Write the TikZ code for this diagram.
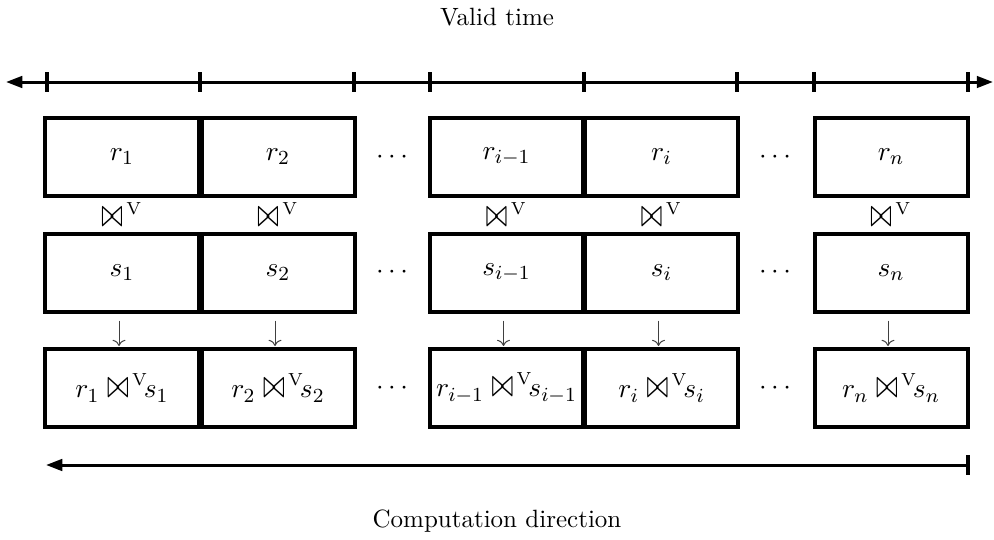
\documentclass[tikz,border=0pt]{standalone}
\usepackage{graphicx}
\usetikzlibrary{arrows.meta,calc}
\newcommand{\vjsym}{\mbox{\fontsize{9.5}{11}\selectfont$\mathord{\scalebox{1.12}[1.75]{$\bowtie$}}^{\,\mathrm{V}}$}}
\newcommand{\vj}{\;\vjsym\!}
\begin{document}
\begin{tikzpicture}[x=0.4pt,y=-0.4pt,
  cell/.style={draw, line width=1.6pt, minimum width=61.2pt, minimum height=31.2pt, inner sep=0pt, font=\fontsize{11}{13}\selectfont},
  lbl/.style={inner sep=0pt, font=\fontsize{10}{12}\selectfont},
  jn/.style={inner sep=0pt, font=\fontsize{11}{13}\selectfont},
  axis/.style={line width=1.2pt},
  tick/.style={line width=1.6pt},
  tip/.style={-{Triangle[length=6.5pt,width=4.6pt]}},
  dn/.style={line width=0.4pt, black!75, ->, shorten <=2.8pt, shorten >=0.4pt}]
\useasboundingbox (0,0) rectangle (994,540);
% titles
\node[lbl] (vt) at (497,17) {Valid time};
\node[lbl] (cd) at (497,521) {Computation direction};
% time axis
\coordinate (axL) at (6,82);
\coordinate (axR) at (993,82);
\draw[axis, {Triangle[length=6.5pt,width=4.6pt]}-{Triangle[length=6.5pt,width=4.6pt]}] (axL) -- (axR);
\foreach \x in {47,200,354,430,584,737,814,968}
  \draw[tick] (\x,72) -- (\x,92);
% row 1
\node[cell] (r1) at (122,157) {$r_1$};
\node[cell] (r2) at (278,157) {$r_2$};
\node[cell] (r3) at (506.5,157) {$r_{i-1}$};
\node[cell] (r4) at (661.5,157) {$r_i$};
\node[cell] (r5) at (891,157) {$r_n$};
% row 2
\node[cell] (s1) at (122,272.5) {$s_1$};
\node[cell] (s2) at (278,272.5) {$s_2$};
\node[cell] (s3) at (506.5,272.5) {$s_{i-1}$};
\node[cell] (s4) at (661.5,272.5) {$s_i$};
\node[cell] (s5) at (891,272.5) {$s_n$};
% row 3
\node[cell] (t1) at (122,388) {$r_1 \vj s_1$};
\node[cell] (t2) at (278,388) {$r_2 \vj s_2$};
\node[cell] (t3) at (506.5,388) {$r_{i-1} \vj s_{i-1}$};
\node[cell] (t4) at (661.5,388) {$r_i \vj s_i$};
\node[cell] (t5) at (891,388) {$r_n \vj s_n$};
% dots
\foreach \r/\y in {a/157,b/272.5,c/388}{
  \node[jn] (d1\r) at (392,\y) {$\cdots$};
  \node[jn] (d2\r) at (775,\y) {$\cdots$};
}
% join labels
\foreach \i in {1,...,5}{
  \node[jn] (j\i) at ($(r\i.south)!0.5!(s\i.north)$) {\vjsym};
}
% down arrows
\foreach \i in {1,...,5}
  \draw[dn] ([xshift=-1.2pt]s\i.south) -- ([xshift=-1.2pt]t\i.north);
% computation direction arrow
\coordinate (cR) at (968,465);
\coordinate (cL) at (46,465);
\coordinate (bT) at (968,455);
\coordinate (bB) at (968,475);
\draw[axis, tip] (cR) -- (cL);
\draw[tick] (bT) -- (bB);
\end{tikzpicture}
\end{document}
